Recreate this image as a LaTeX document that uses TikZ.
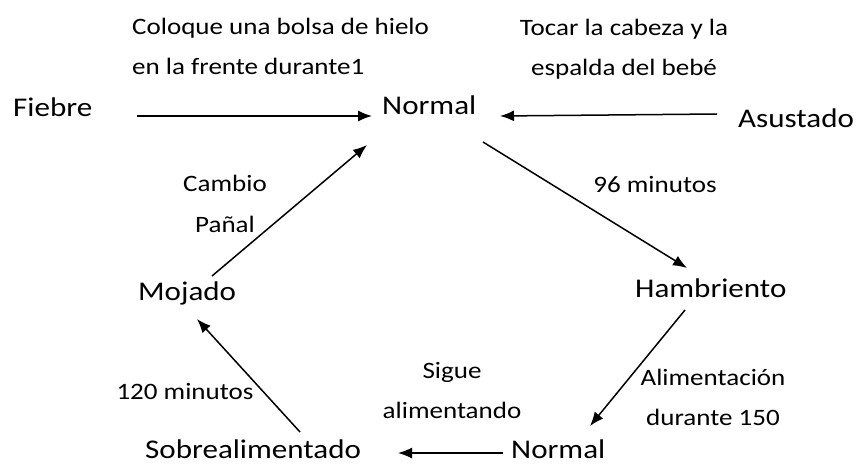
\documentclass[tikz,border=0pt]{standalone}
\usepackage{fontspec}
\setmainfont{Carlito}[FakeStretch=1.15]
\usetikzlibrary{arrows.meta,calc}
\begin{document}
\begin{tikzpicture}[x=1pt,y=-1pt,
  st/.style={anchor=base west,inner sep=0pt,font=\fontsize{27}{32}\selectfont},
  lbl/.style={inner sep=0pt,font=\fontsize{23.5}{40}\selectfont},
  arr/.style={-{Latex[length=14pt,width=11pt]},line width=1.5pt}]
\useasboundingbox (0,0) rectangle (856,465);
% states
\node[st] (fiebre) at (13,117) {Fiebre};
\node[st] (n1) at (382,115) {Normal};
\node[st] (asus) at (738,128) {Asustado};
\node[st] (hamb) at (635,297) {Hambriento};
\node[st] (moj) at (138,300) {Mojado};
\node[st] (sobre) at (145,458) {Sobrealimentado};
\node[st] (n2) at (511,458) {Normal};
% labels (base anchor = baseline of last line)
\node[lbl,align=left,anchor=base west] (l1) at (132,75) {Coloque una bolsa de hielo\\en la frente durante1};
\node[lbl,align=center,anchor=base] (l2) at (624,76) {Tocar la cabeza y la\\espalda del bebé};
\node[lbl,anchor=base] (l3) at (655,193) {96 minutos};
\node[lbl,align=center,anchor=base] (l4) at (225,232) {Cambio\\Pañal};
\node[lbl,anchor=base] (l5) at (185,399) {120 minutos};
\node[lbl,align=center,anchor=base] (l6) at (452,418) {Sigue\\alimentando};
\node[lbl,align=center,anchor=base] (l7) at (713,425) {Alimentación\\durante 150};
% connectors
\draw[arr] ($(fiebre.base west)+(124,-1)$) -- ($(n1.base west)+(-10,1)$);
\draw[arr] ($(asus.base west)+(-21,-14)$) -- ($(n1.base west)+(118,1)$);
\draw[arr] ($(n1.base west)+(101,27)$) -- ($(hamb.base west)+(52,-29)$);
\draw[arr] ($(hamb.base west)+(50,13)$) -- ($(n2.base west)+(79,-32)$);
\draw[arr] ($(n2.base west)+(-8,-5)$) -- ($(sobre.base west)+(253,-5)$);
\draw[arr] ($(sobre.base west)+(155,-26)$) -- ($(moj.base west)+(59,19)$);
\draw[arr] ($(moj.base west)+(74,-24)$) -- ($(n1.base west)+(-15,30)$);
\end{tikzpicture}
\end{document}
